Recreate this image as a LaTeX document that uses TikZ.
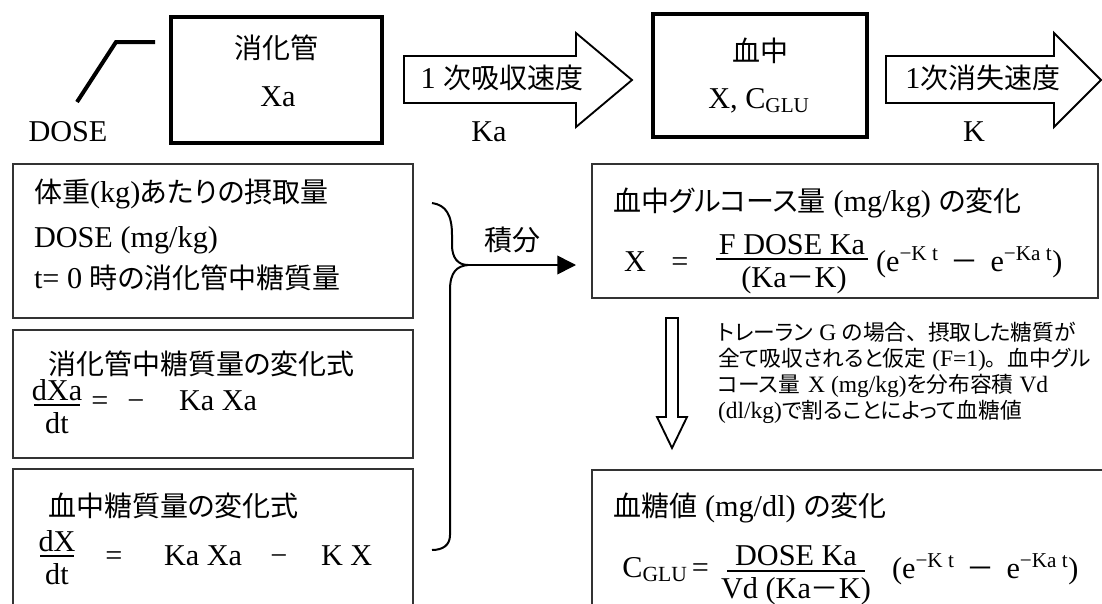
\documentclass[tikz,border=0pt]{standalone}
\usepackage{fontspec}
\setmainfont{Liberation Serif}[Scale=1.08]
\newfontfamily\jpf{Noto Sans CJK JP}[RawFeature=+palt]
\newfontfamily\jpfw{Noto Sans CJK JP}
\newcommand\jp[1]{{\jpf #1}}
\newcommand\jpw[1]{{\jpfw #1}}
\newcommand\pxu{0.75pt}
\usetikzlibrary{arrows.meta}
\begin{document}
\begin{tikzpicture}[x=0.75pt,y=-0.75pt,
  every node/.style={inner sep=0pt,outer sep=0pt},
  mainf/.style={font=\fontsize{21}{25}\selectfont},
  notef/.style={font=\fontsize{16.3}{19}\selectfont},
  lt/.style={mainf,anchor=base west},
  rt/.style={mainf,anchor=base east},
  ct/.style={mainf,anchor=base},
  nt/.style={notef,anchor=base west},
  thickbox/.style={draw=black,line width=3pt},
  thinbox/.style={draw=black!80,line width=1.1pt},
  blockarrow/.style={draw=black,line width=1.4pt,line join=miter},
  fbar/.style={line width=1.1pt},
  bracestyle/.style={line width=1.5pt},
  ]
\useasboundingbox (0,0) rectangle (1102,603);

% ---------- top row ----------
\coordinate (d0) at (77,102);
\coordinate (d1) at (116,42);
\coordinate (d2) at (155,42);
\draw[line width=3pt] (d0) -- (d1) -- (d2);
\node[ct] (dose) at (68,141) {DOSE};

\node[thickbox,minimum width=211*\pxu,minimum height=126*\pxu] (gut) at (276.5,80) {};
\node[ct] (gutname) at (276,58) {\jp{消化管}};
\node[ct] (gutxa) at (278,106) {Xa};

\draw[blockarrow] (404,56) -- (576,56) -- (576,33) -- (632,80) -- (576,127) -- (576,103) -- (404,103) -- cycle;
\node[ct] (abs) at (502,88) {1 \jp{次吸収速度}};
\node[ct] (ka) at (489,141) {Ka};

\node[thickbox,minimum width=214*\pxu,minimum height=123*\pxu] (blood) at (760,75.5) {};
\node[ct] (bloodname) at (760,61) {\jp{血中}};
\node[ct] (bloodx) at (759,108) {X, C\textsubscript{GLU}};

\draw[blockarrow] (886,56) -- (1054,56) -- (1054,33) -- (1101,80) -- (1054,127) -- (1054,103) -- (886,103) -- cycle;
\node[ct] (elim) at (983,88) {1\jp{次消失速度}};
\node[ct] (kk) at (974,141) {K};

% ---------- left boxes ----------
\node[thinbox,minimum width=400*\pxu,minimum height=154*\pxu] (box1) at (213,241) {};
\node[lt] (b1a) at (34,202) {\jp{体重}(kg)\jp{あたりの摂取量}};
\node[lt] (b1b) at (34,247) {DOSE (mg/kg)};
\node[lt] (b1c) at (34,288) {t= 0 \jp{時の消化管中糖質量}};

\node[thinbox,minimum width=400*\pxu,minimum height=128*\pxu] (box2) at (213,394) {};
\node[lt] (b2t) at (48,374) {\jp{消化管中糖質量の変化式}};
\node[ct] (b2n) at (57,400) {dXa};
\draw[fbar] (34,405) -- (80,405);
\node[ct] (b2d) at (57,433) {dt};
\node[ct] (b2e) at (100,410) {=};
\node[ct] (b2m) at (136,410) {−};
\node[lt] (b2r) at (179,410) {Ka Xa};

\draw[thinbox] (13,604) -- (13,469) -- (413,469) -- (413,604);
\node[lt] (b3t) at (48,516) {\jp{血中糖質量の変化式}};
\node[ct] (b3n) at (57,551) {dX};
\draw[fbar] (40,556) -- (74,556);
\node[ct] (b3d) at (57,584) {dt};
\node[ct] (b3e) at (114,565) {=};
\node[lt] (b3r) at (164,565) {Ka Xa};
\node[ct] (b3m) at (279,565) {−};
\node[lt] (b3k) at (321,565) {K X};

% ---------- brace and integration arrow ----------
\coordinate (btop) at (432,203);
\coordinate (btip) at (468,265);
\coordinate (bbot) at (432,550);
\coordinate (atip) at (576,265);
\draw[bracestyle] (btop) .. controls (446,205) and (452,215) .. (452,235) -- (452,245) .. controls (452,258) and (458,265) .. (btip);
\draw[bracestyle] (btip) .. controls (457,266) and (450,272) .. (450,290) -- (450,535) .. controls (450,545) and (443,550) .. (bbot);
\draw[line width=1.2pt,-{Triangle[length=14pt,width=14pt]}] (btip) -- (atip);
\node[ct] (integ) at (512,250) {\jp{積分}};

% ---------- right boxes ----------
\node[thinbox,minimum width=506*\pxu,minimum height=134*\pxu] (boxA) at (845,231) {};
\node[lt] (bAt) at (613,211) {\jp{血中グルコース量} (mg/kg) \jp{の変化}};
\node[ct] (bAx) at (635,271) {X};
\node[ct] (bAe) at (680,271) {=};
\node[ct] (bAn) at (792,254) {F DOSE Ka};
\draw[fbar] (716,259) -- (868,259);
\node[ct] (bAd) at (794,287) {(Ka\jp{－}K)};
\node[lt] (bAp) at (876,271) {(e\textsuperscript{−K t}\hspace{9pt}\jp{－}\hspace{9pt}e\textsuperscript{−Ka t})};

\draw[blockarrow] (666,318) -- (678,318) -- (678,417) -- (687,417) -- (672,448) -- (657,417) -- (666,417) -- cycle;
\node[nt] (note1) at (718,340) {\jp{トレーラン} G \jp{の場合}\jpw{、}\jp{摂取した糖質が}};
\node[nt] (note2) at (718,366) {\jp{全て吸収されると仮定} (F=1)\jpw{。}\jp{血中グル}};
\node[nt] (note3) at (718,392) {\jp{コース量}\hspace{6pt}X (mg/kg)\jp{を分布容積} Vd};
\node[nt] (note4) at (718,418) {(dl/kg)\jp{で割ることによって血糖値}};

\draw[thinbox] (592,604) -- (592,470) -- (1103,470);
\node[lt] (b4t) at (613,516) {\jp{血糖値}\hspace{6pt}(mg/dl)\hspace{6pt}\jp{の変化}};
\node[rt] (b4c) at (709,577) {C{\fontsize{15}{18}\selectfont\raisebox{-0.5ex}{GLU}}\,=};
\node[ct] (b4n) at (796,565) {DOSE Ka};
\draw[fbar] (727,571) -- (865,571);
\node[ct] (b4d) at (796,598) {Vd (Ka\jp{－}K)};
\node[lt] (b4p) at (892,578) {(e\textsuperscript{−K t}\hspace{9pt}\jp{－}\hspace{9pt}e\textsuperscript{−Ka t})};
\end{tikzpicture}
\end{document}
